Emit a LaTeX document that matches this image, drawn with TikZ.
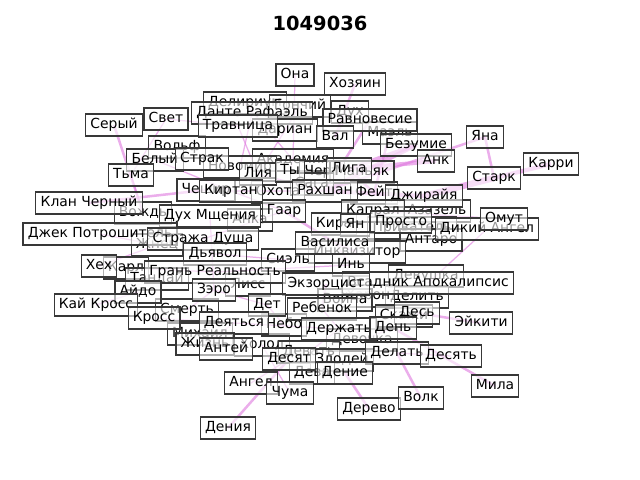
\documentclass[tikz,border=0pt]{standalone}
\usepackage{fontspec}
\setmainfont{DejaVu Sans}
\begin{document}
\begin{tikzpicture}[x=0.72pt,y=-0.72pt,
  nb/.style={draw=black!78, line width=0.8pt, fill=white, fill opacity=0.6, text opacity=1,
    font=\fontsize{10}{12}\selectfont, inner xsep=3.4pt, inner ysep=3pt,
    text height=0.76em, text depth=0.22em},
  ed/.style={draw={rgb,255:red,222;green,120;blue,222}, draw opacity=0.6, line cap=butt},
  e1/.style={ed, line width=0.9pt},
  e2/.style={ed, line width=1.8pt},
  e3/.style={ed, line width=3pt},
  e4/.style={ed, line width=4.5pt}]
\useasboundingbox (0,0) rectangle (640,480);
\node[font=\fontsize{14}{16}\selectfont\bfseries] (title) at (320,23) {1049036};

\path
 (245,103) coordinate (pdel) (300,106) coordinate (pgon) (350,112) coordinate (pdux)
 (252,113) coordinate (pdan) (285,130) coordinate (pdar) (390,133) coordinate (pmae)
 (293,160) coordinate (paka) (240,167) coordinate (pnov) (177,147) coordinate (pvol)
 (322,172) coordinate (pchert) (362,172) coordinate (pman) (312,184) coordinate (psag)
 (278,192) coordinate (poxo) (374,193) coordinate (pfei) (143,213) coordinate (pvozh)
 (250,220) coordinate (panka) (437,211) coordinate (paza) (412,228) coordinate (ppri)
 (431,240) coordinate (pant) (157,245) coordinate (pzhn) (334,224) coordinate (pkir)
 (357,252) coordinate (pinq) (288,260) coordinate (psie) (126,268) coordinate (pkar)
 (157,279) coordinate (ptan) (426,276) coordinate (pdevu) (248,285) coordinate (plis)
 (187,310) coordinate (psme) (417,297) coordinate (pdeli) (368,296) coordinate (pxar)
 (345,300) coordinate (pvoi) (404,316) coordinate (pska) (200,334) coordinate (pmix)
 (262,345) coordinate (pxol) (362,340) coordinate (pdevo) (309,352) coordinate (pdeva)
 (342,360) coordinate (pzlo) (312,373) coordinate (pdv) (284,325) coordinate (pneb)
 (206,190) coordinate (pches);
\path
 (295,75) coordinate (cona) (355,84) coordinate (choz) (114,125) coordinate (cser)
 (166,119) coordinate (csvet) (238,126) coordinate (ctrav) (370,120) coordinate (cravn)
 (335,137) coordinate (cval) (416,145) coordinate (cbez) (436,161) coordinate (cank)
 (485,137) coordinate (cyana) (551,164) coordinate (ckari) (494,178) coordinate (cstark)
 (155,160) coordinate (cbel) (202,159) coordinate (cstrak) (131,175) coordinate (ctma)
 (258,174) coordinate (cliya) (290,171) coordinate (cty) (349,169) coordinate (cliga)
 (231,191) coordinate (ckirt) (325,191) coordinate (crax) (424,196) coordinate (cdzh)
 (89,203) coordinate (cklan) (210,216) coordinate (cdmsh) (284,211) coordinate (cgaar)
 (373,211) coordinate (ckapr) (504,219) coordinate (comut) (487,229) coordinate (cdik)
 (100,234) coordinate (cdzhek) (401,222) coordinate (cprost) (355,225) coordinate (cyan)
 (203,239) coordinate (cstrazh) (335,243) coordinate (cvas) (215,254) coordinate (cdyav)
 (99,266) coordinate (chex) (215,272) coordinate (cgran) (351,265) coordinate (cin)
 (428,283) coordinate (cvsad) (326,284) coordinate (cekz) (138,292) coordinate (caido)
 (214,290) coordinate (czero) (96,305) coordinate (ckai) (154,318) coordinate (ckross)
 (267,305) coordinate (cdet) (322,309) coordinate (creb) (417,313) coordinate (cdes)
 (481,323) coordinate (ceik) (234,323) coordinate (cdeya) (339,329) coordinate (cderzh)
 (393,328) coordinate (cden) (205,344) coordinate (czhiz) (226,349) coordinate (cantei)
 (289,359) coordinate (cdesyat) (397,353) coordinate (cdelat) (451,356) coordinate (cdesyt)
 (251,383) coordinate (cangel) (290,393) coordinate (cchuma) (345,373) coordinate (cdenie)
 (369,409) coordinate (cderevo) (421,398) coordinate (cvolk) (495,386) coordinate (cmila)
 (228,428) coordinate (cdeniya);

% edges
\draw[e1] (cona) -- (paka);
\draw[e2] (choz) -- (cval);
\draw[e2] (cser) -- (pvozh);
\draw[e1] (csvet) -- (ctma);
\draw[e1] (ctma) -- (pvozh);
\draw[e1] (csvet) -- (ctrav);
\draw[e1] (ctrav) -- (cliya);
\draw[e1] (pdan) -- (pnov);
\draw[e1] (pdel) -- (paka);
\draw[e2] (cklan) -- (pches);
\draw[e1] (cdzhek) -- (pzhn);
\draw[e1] (chex) -- (pzhn);
\draw[e1] (ckai) -- (caido);
\draw[e2] (cyana) -- (cstark);
\draw[e2] (cyana) -- (crax);
\draw[e3] (ckari) -- (cstark);
\draw[e4] (cstark) -- (cdzh);
\draw[e3] (cdzh) -- (crax);
\draw[e3] (cank) -- (cliga);
\draw[e3] (cbez) -- (crax);
\draw[e3] (cbez) -- (cliga);
\draw[e2] (pmae) -- (pfei);
\draw[e2] (cravn) -- (crax);
\draw[e1] (pdux) -- (cval);
\draw[e1] (pgon) -- (cliya);
\draw[e1] (comut) -- (ckapr);
\draw[e2] (ceik) -- (cdes);
\draw[e2] (cmila) -- (cden);
\draw[e2] (cvolk) -- (cdelat);
\draw[e2] (cderevo) -- (cdenie);
\draw[e2] (cdeniya) -- (cdesyat);
\draw[e1] (cangel) -- (cdesyat);
\draw[e1] (cchuma) -- (pxol);
\draw[e1] (cdesyt) -- (cdelat);
\draw[e1] (psme) -- (czero);
\draw[e1] (cdmsh) -- (czero);
\draw[e2] (cgaar) -- (cvas);
\draw[e2] (cekz) -- (creb);
\draw[e1] (cdeya) -- (cderzh);
\draw[e1] (cstrazh) -- (cgaar);
\draw[e1] (cgran) -- (cin);
\draw[e1] (cvsad) -- (cdik);
\draw[e1] (pant) -- (cdzh);
\draw[e1] (ckross) -- (cdeya);
\draw[e1] (czhiz) -- (cdeya);
\draw[e2] (ckirt) -- (crax);
\draw[e1] (cbel) -- (ckirt);
\draw[e1] (pkar) -- (cgran);
\draw[e2] (pinq) -- (cvas);
\draw[e1] (pdevo) -- (cden);
\draw[e1] (cdet) -- (pneb);
\draw[e1] (pdeva) -- (cderzh);
\draw[e1] (cliya) -- (crax);
\draw[e1] (cty) -- (paka);
\draw[e1] (ckirt) -- (cgaar);
\draw[e1] (cdyav) -- (psie);
\draw[e1] (czero) -- (cdet);
\draw[e1] (creb) -- (cderzh);
\draw[e1] (cvas) -- (cin);
\draw[e1] (ckapr) -- (cprost);
\draw[e2] (cliga) -- (pfei);

% background (partly hidden) nodes
\node[nb] (del) at (pdel) {Делириум};
\node[nb] (gon) at (pgon) {Гончий};
\node[nb] (dux) at (pdux) {Дух};
\node[nb] (dan) at (pdan) {Данте Рафаэль};
\node[nb] (dar) at (pdar) {Дариан};
\node[nb] (mae) at (pmae) {Маэль};
\node[nb] (aka) at (paka) {Академия};
\node[nb] (nov) at (pnov) {Новомир};
\node[nb] (vol) at (pvol) {Вольф};
\node[nb] (chert) at (pchert) {Черт};
\node[nb] (man) at (pman) {Маньяк};
\node[nb] (sag) at (psag) {Сага};
\node[nb] (oxo) at (poxo) {Охота};
\node[nb] (fei) at (pfei) {Фейт};
\node[nb] (vozh) at (pvozh) {Вождь};
\node[nb] (anka) at (panka) {Анка};
\node[nb] (aza) at (paza) {Азазель};
\node[nb] (pri) at (ppri) {Приватель};
\node[nb] (ant) at (pant) {Антаро};
\node[nb] (zhn) at (pzhn) {Жнец};
\node[nb] (kir) at (pkir) {Кира};
\node[nb] (inq) at (pinq) {Инквизитор};
\node[nb] (sie) at (psie) {Сиэль};
\node[nb] (kar) at (pkar) {Карл};
\node[nb] (tan) at (ptan) {Тандай};
\node[nb] (devu) at (pdevu) {Девушка};
\node[nb] (lis) at (plis) {Лисс};
\node[nb] (sme) at (psme) {Смерть};
\node[nb] (deli) at (pdeli) {Делить};
\node[nb] (xar) at (pxar) {Харон};
\node[nb] (voi) at (pvoi) {Война};
\node[nb] (ska) at (pska) {Скажи};
\node[nb] (mix) at (pmix) {Михаил};
\node[nb] (xol) at (pxol) {Холод};
\node[nb] (devo) at (pdevo) {Девочка};
\node[nb] (deva) at (pdeva) {Девать};
\node[nb] (zlo) at (pzlo) {Злодей};
\node[nb] (dv) at (pdv) {Дева};
\node[nb] (neb) at (pneb) {Небо};
\node[nb] (ches) at (pches) {Чешир};

% front nodes
\node[nb] (ona) at (cona) {Она};
\node[nb] (hoz) at (choz) {Хозяин};
\node[nb] (ser) at (cser) {Серый};
\node[nb] (svet) at (csvet) {Свет};
\node[nb] (trav) at (ctrav) {Травница};
\node[nb] (ravn) at (cravn) {Равновесие};
\node[nb] (val) at (cval) {Вал};
\node[nb] (bez) at (cbez) {Безумие};
\node[nb] (ank) at (cank) {Анк};
\node[nb] (yana) at (cyana) {Яна};
\node[nb] (kari) at (ckari) {Карри};
\node[nb] (stark) at (cstark) {Старк};
\node[nb] (bel) at (cbel) {Белый};
\node[nb] (strak) at (cstrak) {Страк};
\node[nb] (tma) at (ctma) {Тьма};
\node[nb] (liya) at (cliya) {Лия};
\node[nb] (ty) at (cty) {Ты};
\node[nb] (liga) at (cliga) {Лига};
\node[nb] (kirt) at (ckirt) {Киртан};
\node[nb] (rax) at (crax) {Рахшан};
\node[nb] (dzh) at (cdzh) {Джирайя};
\node[nb] (klan) at (cklan) {Клан Черный};
\node[nb] (dmsh) at (cdmsh) {Дух Мщения};
\node[nb] (gaar) at (cgaar) {Гаар};
\node[nb] (kapr) at (ckapr) {Капрал};
\node[nb] (dik) at (cdik) {Дикий Ангел};
\node[nb] (omut) at (comut) {Омут};
\node[nb] (dzhek) at (cdzhek) {Джек Потрошитель};
\node[nb] (prost) at (cprost) {Просто};
\node[nb] (yan) at (cyan) {Ян};
\node[nb] (strazh) at (cstrazh) {Стража Душа};
\node[nb] (vas) at (cvas) {Василиса};
\node[nb] (dyav) at (cdyav) {Дьявол};
\node[nb] (hex) at (chex) {Хех};
\node[nb] (gran) at (cgran) {Грань Реальность};
\node[nb] (in) at (cin) {Инь};
\node[nb] (vsad) at (cvsad) {Всадник Апокалипсис};
\node[nb] (ekz) at (cekz) {Экзорцист};
\node[nb] (aido) at (caido) {Айдо};
\node[nb] (zero) at (czero) {Зэро};
\node[nb] (kai) at (ckai) {Кай Кросс};
\node[nb] (kross) at (ckross) {Кросс};
\node[nb] (det) at (cdet) {Дет};
\node[nb] (reb) at (creb) {Ребенок};
\node[nb] (des) at (cdes) {Десь};
\node[nb] (eik) at (ceik) {Эйкити};
\node[nb] (deya) at (cdeya) {Деяться};
\node[nb] (derzh) at (cderzh) {Держать};
\node[nb] (den) at (cden) {День};
\node[nb] (zhiz) at (czhiz) {Жизнь};
\node[nb] (antei) at (cantei) {Антей};
\node[nb] (desyat) at (cdesyat) {Десят};
\node[nb] (delat) at (cdelat) {Делать};
\node[nb] (desyt) at (cdesyt) {Десять};
\node[nb] (angel) at (cangel) {Ангел};
\node[nb] (chuma) at (cchuma) {Чума};
\node[nb] (denie) at (cdenie) {Дение};
\node[nb] (derevo) at (cderevo) {Дерево};
\node[nb] (volk) at (cvolk) {Волк};
\node[nb] (mila) at (cmila) {Мила};
\node[nb] (deniya) at (cdeniya) {Дения};
\end{tikzpicture}
\end{document}
